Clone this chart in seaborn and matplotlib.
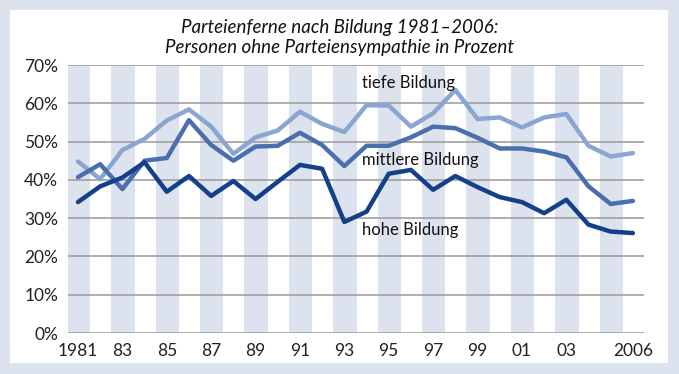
import pandas as pd
import numpy as np
import seaborn as sns
import matplotlib.pyplot as plt
from matplotlib.patches import Rectangle

years = list(range(1981, 2007))
tiefe = [44.8, 40.2, 47.8, 50.7, 55.5, 58.4, 53.9, 46.8, 51.1, 52.9,
         57.8, 54.6, 52.5, 59.5, 59.4, 53.9, 57.4, 63.5, 55.9, 56.3,
         53.7, 56.3, 57.2, 48.9, 46.1, 47.0]
mittlere = [40.7, 44.1, 37.6, 45.0, 45.7, 55.6, 49.1, 45.0, 48.7, 48.9,
            52.3, 49.1, 43.6, 48.9, 48.9, 51.1, 53.9, 53.5, 51.0, 48.2,
            48.2, 47.4, 45.9, 38.3, 33.7, 34.5]
hohe = [34.2, 38.3, 40.6, 44.6, 36.9, 41.0, 35.8, 39.7, 35.0, 39.5,
        43.9, 42.9, 29.0, 31.7, 41.6, 42.6, 37.4, 41.0, 38.1, 35.5,
        34.2, 31.3, 34.8, 28.3, 26.5, 26.1]
groups = ['tiefe Bildung', 'mittlere Bildung', 'hohe Bildung']
colors = ['#8aa5d1', '#4b6fae', '#143f8b']
xtick_pos = [1981, 1983, 1985, 1987, 1989, 1991, 1993, 1995, 1997, 1999, 2001, 2003, 2006]
xtick_labels = ['1981', '83', '85', '87', '89', '91', '93', '95', '97', '99', '01', '03', '2006']

df = pd.DataFrame({'Jahr': years * 3,
                   'Anteil': tiefe + mittlere + hohe,
                   'Gruppe': np.repeat(groups, len(years))})

sns.set_theme(style='white')
plt.rcParams['font.family'] = ['Lato', 'DejaVu Sans']

frame = '#dce2ee'
fig = plt.figure(figsize=(6.79, 3.74), dpi=100)
fig.patch.set_facecolor(frame)
# white panel inside the frame
fig.patches.append(Rectangle((10 / 679, 11 / 374), 658 / 679, 353 / 374,
                             transform=fig.transFigure, facecolor='white',
                             edgecolor='none', zorder=-5))
ax = fig.add_axes([68 / 679, 41 / 374, 576 / 679, 268 / 374])
ax.set_facecolor('none')

# shaded bands on odd years
for y in range(1981, 2006, 2):
    ax.axvspan(y - 0.5, y + 0.55, color=frame, lw=0, zorder=0)

for v in range(0, 80, 10):
    ax.axhline(v, color='#999999', lw=1.1, zorder=1)

sns.lineplot(data=df, x='Jahr', y='Anteil', hue='Gruppe', palette=colors,
             linewidth=3.2, legend=False, ax=ax, zorder=3)

ax.set_xlim(1980.55, 2006.5)
ax.set_ylim(0, 70)
ax.set_yticks(range(0, 80, 10))
ax.set_yticklabels([f'{v}%' for v in range(0, 80, 10)], fontsize=12.5, color='#222222')
ax.set_xticks(xtick_pos)
ax.set_xticklabels(xtick_labels, fontsize=12.5, color='#222222')
ax.tick_params(length=0, pad=7)
ax.set_xlabel('')
ax.set_ylabel('')
for s in ax.spines.values():
    s.set_visible(False)

ax.text(1993.8, 65.3, 'tiefe Bildung', fontsize=12, va='center', color='#111111')
ax.text(1993.8, 45.2, 'mittlere Bildung', fontsize=12, va='center', color='#111111')
ax.text(1993.8, 27.0, 'hohe Bildung', fontsize=12, va='center', color='#111111')

fig.text(0.5, 1 - 27 / 374, 'Parteienferne nach Bildung 1981–2006:', ha='center',
         va='center', fontsize=13.5, style='italic', color='#111111')
fig.text(0.5, 1 - 48 / 374, 'Personen ohne Parteiensympathie in Prozent', ha='center',
         va='center', fontsize=13.5, style='italic', color='#111111')

fig.savefig('out.png', dpi=100, facecolor=frame)
